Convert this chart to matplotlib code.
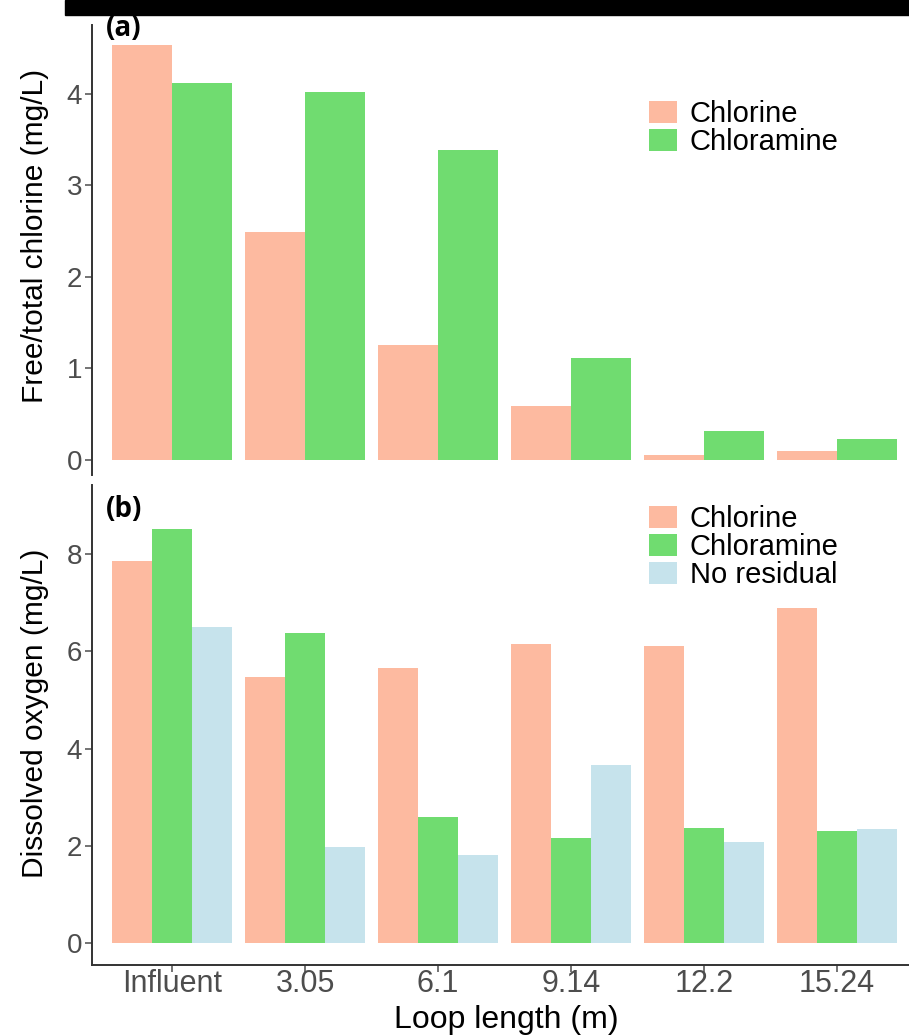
import numpy as np
import matplotlib
matplotlib.use("Agg")
import matplotlib.pyplot as plt
from matplotlib.patches import Rectangle

plt.rcParams['font.family'] = ['Liberation Sans', 'DejaVu Sans']

# data
loop_lengths = ['Influent', '3.05', '6.1', '9.14', '12.2', '15.24']

free_chlorine = [4.53, 2.49, 1.26, 0.59, 0.05, 0.10]
total_chloramine = [4.12, 4.02, 3.39, 1.11, 0.32, 0.23]

do_chlorine = [7.86, 5.47, 5.66, 6.15, 6.11, 6.89]
do_chloramine = [8.52, 6.38, 2.59, 2.16, 2.37, 2.30]
do_no_residual = [6.50, 1.98, 1.81, 3.66, 2.08, 2.35]

C_CL = '#FDBAA0'
C_CLM = '#70DC70'
C_NR = '#C6E3EC'
AX_COL = '#333333'
TICK_COL = '#4D4D4D'

W, H = 909, 1036
fig = plt.figure(figsize=(W / 100, H / 100), dpi=100, facecolor='white')

def px_axes(left, top, right, bottom):
    return fig.add_axes([left / W, 1 - bottom / H, (right - left) / W, (bottom - top) / H])

x = np.arange(1, len(loop_lengths) + 1)

# ---- panel (a)
ax1 = px_axes(92, 25, 909, 475)
bw = 0.451
ax1.bar(x - bw / 2, free_chlorine, bw, color=C_CL, label='Chlorine')
ax1.bar(x + bw / 2, total_chloramine, bw, color=C_CLM, label='Chloramine')
ax1.set_xlim(0.398, 6.541)
ax1.set_ylim(-0.164, 4.754)
ax1.set_yticks([0, 1, 2, 3, 4])
ax1.set_xticks([])
for s in ['top', 'right', 'bottom']:
    ax1.spines[s].set_visible(False)

# ---- panel (b)
ax2 = px_axes(92, 485, 909, 965)
bw2 = 0.30
ax2.bar(x - bw2, do_chlorine, bw2, color=C_CL, label='Chlorine')
ax2.bar(x, do_chloramine, bw2, color=C_CLM, label='Chloramine')
ax2.bar(x + bw2, do_no_residual, bw2, color=C_NR, label='No residual')
ax2.set_xlim(0.398, 6.541)
ax2.set_ylim(-0.453, 9.42)
ax2.set_yticks([0, 2, 4, 6, 8])
ax2.set_xticks(x)
ax2.set_xticklabels(loop_lengths)
for s in ['top', 'right']:
    ax2.spines[s].set_visible(False)

for ax in (ax1, ax2):
    for s in ['left', 'bottom']:
        ax.spines[s].set_color(AX_COL)
        ax.spines[s].set_linewidth(1.4)
    ax.tick_params(axis='y', length=5, width=1.1, color=TICK_COL, labelcolor=TICK_COL,
                   labelsize=20, pad=2)
    ax.tick_params(axis='x', length=5, width=1.1, color=TICK_COL, labelcolor=TICK_COL,
                   labelsize=22, pad=-2)
    ax.set_facecolor('white')

leg_kw = dict(frameon=False, fontsize=21, handlelength=0.95, handleheight=0.8,
              handletextpad=0.45, labelspacing=0.0, borderpad=0, borderaxespad=0,
              loc='upper left')
ax1.legend(bbox_to_anchor=(649 / W, 1 - 100 / H), bbox_transform=fig.transFigure, **leg_kw)
ax2.legend(bbox_to_anchor=(649 / W, 1 - 505 / H), bbox_transform=fig.transFigure, **leg_kw)

# axis titles
fig.text(35 / W, 1 - 236 / H, 'Free/total chlorine (mg/L)', rotation=90,
         ha='center', va='center', fontsize=21.5, color='black')
fig.text(35 / W, 1 - 713 / H, 'Dissolved oxygen (mg/L)', rotation=90,
         ha='center', va='center', fontsize=21.5, color='black')
fig.text(506 / W, 1 / H, 'Loop length (m)', ha='center', va='bottom',
         fontsize=23, color='black')

# panel tags
fig.text(106 / W, 1 - 28 / H, '(a)', ha='left', va='center', fontsize=20,
         fontweight='bold', family=['Open Sans', 'DejaVu Sans'])
fig.text(106 / W, 1 - 509 / H, '(b)', ha='left', va='center', fontsize=20,
         fontweight='bold', family=['Open Sans', 'DejaVu Sans'])

# black band across the top of the reference
fig.patches.append(Rectangle((65 / W, 1 - 15 / H), (W - 65) / W, 15 / H,
                             transform=fig.transFigure, color='black', zorder=10))

fig.savefig('out.png', dpi=100, facecolor='white')
